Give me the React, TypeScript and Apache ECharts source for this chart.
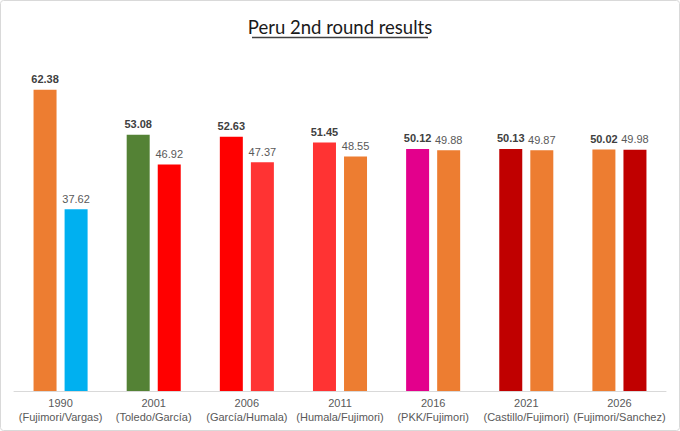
import React, { useEffect, useRef } from "react";
import * as echarts from "echarts";

const years = ["1990", "2001", "2006", "2011", "2016", "2021", "2026"];
const matchups = [
  "(Fujimori/Vargas)",
  "(Toledo/García)",
  "(García/Humala)",
  "(Humala/Fujimori)",
  "(PKK/Fujimori)",
  "(Castillo/Fujimori)",
  "(Fujimori/Sanchez)",
];
const winnerValues = [62.38, 53.08, 52.63, 51.45, 50.12, 50.13, 50.02];
const loserValues = [37.62, 46.92, 47.37, 48.55, 49.88, 49.87, 49.98];
const winnerColors = ["#ED7D31", "#548235", "#FF0000", "#FF3333", "#E3008C", "#C00000", "#ED7D31"];
const loserColors = ["#00B0F0", "#FF0000", "#FF3333", "#ED7D31", "#ED7D31", "#ED7D31", "#C00000"];
const titleText = "Peru 2nd round results";

export default function App() {
  const ref = useRef<HTMLDivElement>(null);
  useEffect(() => {
    document.body.style.margin = "0";
    const chart = echarts.init(ref.current!, null, { renderer: "svg" });
    const categories = years.map((y, i) => y + "\n" + matchups[i]);
    chart.setOption({
      animation: false,
      backgroundColor: "#FFFFFF",
      title: {
        text: titleText,
        left: "center",
        top: 12,
        textStyle: {
          fontFamily: "Lato",
          fontWeight: "normal",
          fontSize: 18.5,
          color: "#1A1A1A",
        },
      },
      graphic: [
        {
          type: "rect",
          shape: { x: 0.5, y: 0.5, width: 679, height: 430, r: 3 },
          style: { fill: "none", stroke: "#D9D9D9", lineWidth: 1 },
          silent: true,
        },
        {
          type: "line",
          shape: { x1: 252, y1: 37.5, x2: 428, y2: 37.5 },
          style: { stroke: "#404040", lineWidth: 1.5 },
          silent: true,
        },
      ],
      grid: { left: 14, right: 14, top: 53, bottom: 40, containLabel: false },
      xAxis: {
        type: "category",
        data: categories,
        axisLine: { lineStyle: { color: "#D9D9D9", width: 1 } },
        axisTick: { show: false },
        axisLabel: {
          color: "#595959",
          fontFamily: "Liberation Sans",
          fontSize: 11,
          lineHeight: 14,
          margin: 5,
          interval: 0,
        },
      },
      yAxis: {
        type: "value",
        min: 0,
        max: 70,
        show: false,
        splitLine: { show: false },
      },
      series: [
        {
          type: "bar",
          barWidth: 23,
          barGap: "35%",
          data: winnerValues.map((v, i) => ({ value: v, itemStyle: { color: winnerColors[i] } })),
          label: {
            show: true,
            position: "top",
            distance: 5,
            fontFamily: "Liberation Sans",
            fontWeight: "bold",
            fontSize: 11,
            color: "#404040",
            formatter: (p: any) => p.value.toFixed(2),
          },
        },
        {
          type: "bar",
          barWidth: 23,
          barGap: "35%",
          data: loserValues.map((v, i) => ({ value: v, itemStyle: { color: loserColors[i] } })),
          label: {
            show: true,
            position: "top",
            distance: 5,
            fontFamily: "Liberation Sans",
            fontSize: 11,
            color: "#595959",
            formatter: (p: any) => p.value.toFixed(2),
          },
        },
      ],
    });
    return () => chart.dispose();
  }, []);
  return <div ref={ref} style={{ width: 680, height: 431 }} />;
}
